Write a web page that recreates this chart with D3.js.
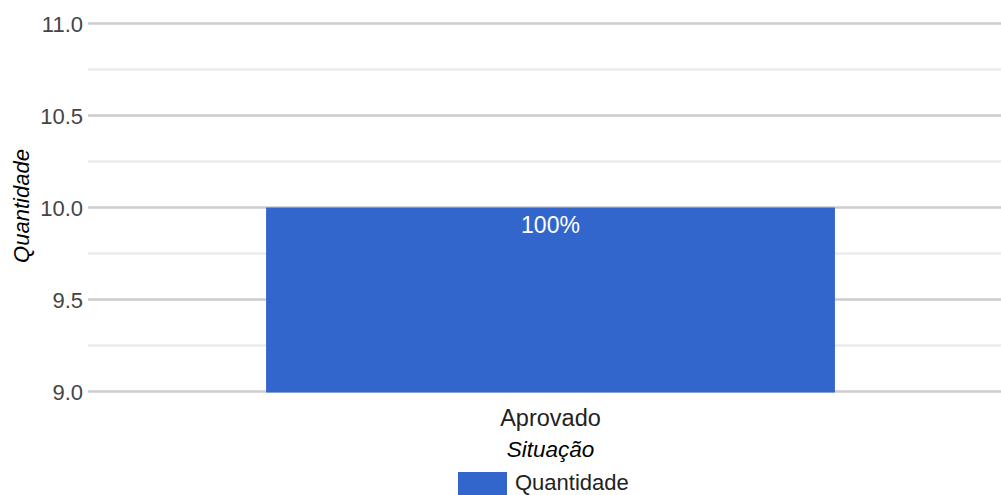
<!DOCTYPE html>
<html>
<head>
<meta charset="utf-8">
<script src="https://cdn.jsdelivr.net/npm/d3@7"></script>
<style>
  body { margin: 0; background: #fff; }
  svg { display: block; font-family: Arial, "Liberation Sans", sans-serif; }
</style>
</head>
<body>
<svg id="chart"></svg>
<script>
const width = 1001;
const height = 495;

// data
const categories = ['Aprovado'];
const values = [10];
const percentLabels = ['100%'];
const seriesName = 'Quantidade';
const majorTicks = [9.0, 9.5, 10.0, 10.5, 11.0];
const minorTicks = [9.25, 9.75, 10.25, 10.75];

const plot = { left: 88, right: 1013, top: 23.5, bottom: 391.5 };

const root = d3.select('svg#chart')
    .attr('width', width)
    .attr('height', height);

const y = d3.scaleLinear()
    .domain([9, 11])
    .range([plot.bottom, plot.top]);

const x = d3.scaleBand()
    .domain(categories)
    .range([plot.left, plot.right])
    .paddingInner(0.385)
    .paddingOuter(0.1925);

const cx = d => x(d) + x.bandwidth() / 2;

// gridlines
root.append('g')
    .selectAll('line')
    .data(minorTicks).enter()
    .append('line')
    .attr('x1', plot.left)
    .attr('x2', width)
    .attr('y1', d => y(d))
    .attr('y2', d => y(d))
    .attr('stroke', '#ebebeb')
    .attr('stroke-width', 2.5);

root.append('g')
    .selectAll('line')
    .data(majorTicks).enter()
    .append('line')
    .attr('x1', plot.left)
    .attr('x2', width)
    .attr('y1', d => y(d))
    .attr('y2', d => y(d))
    .attr('stroke', '#cccccc')
    .attr('stroke-width', 2.5);

// y tick labels
root.append('g')
    .selectAll('text')
    .data(majorTicks).enter()
    .append('text')
    .attr('x', 83)
    .attr('y', d => y(d) + 8)
    .attr('text-anchor', 'end')
    .attr('fill', '#444')
    .style('font-size', '22px')
    .text(d => d3.format('.1f')(d));

// bars
const bars = root.append('g')
    .selectAll('g')
    .data(categories.map((c, i) => ({ c, v: values[i], p: percentLabels[i] })))
    .enter().append('g');

bars.append('rect')
    .attr('x', d => x(d.c))
    .attr('width', x.bandwidth())
    .attr('y', d => y(d.v))
    .attr('height', d => y(9) - y(d.v) + 1)
    .attr('fill', '#3366cc');

bars.append('text')
    .attr('x', d => cx(d.c))
    .attr('y', d => y(d.v) + 25)
    .attr('text-anchor', 'middle')
    .attr('fill', '#fff')
    .style('font-size', '23px')
    .text(d => d.p);

// x labels
root.append('g')
    .selectAll('text')
    .data(categories).enter()
    .append('text')
    .attr('x', d => cx(d))
    .attr('y', 426)
    .attr('text-anchor', 'middle')
    .attr('fill', '#222')
    .style('font-size', '23.5px')
    .text(d => d);

// axis titles
root.append('text')
    .attr('x', cx(categories[0]))
    .attr('y', 457)
    .attr('text-anchor', 'middle')
    .attr('fill', '#000')
    .style('font-size', '22.5px')
    .style('font-style', 'italic')
    .text('Situação');

root.append('text')
    .attr('transform', `translate(29, 206) rotate(-90)`)
    .attr('text-anchor', 'middle')
    .attr('fill', '#000')
    .style('font-size', '22px')
    .style('font-style', 'italic')
    .text('Quantidade');

// legend
const legend = root.append('g');
legend.append('rect')
    .attr('x', 458)
    .attr('y', 472)
    .attr('width', 49)
    .attr('height', 24)
    .attr('fill', '#3366cc');
legend.append('text')
    .attr('x', 515)
    .attr('y', 490)
    .attr('fill', '#222')
    .style('font-size', '22px')
    .text(seriesName);
</script>
</body>
</html>
